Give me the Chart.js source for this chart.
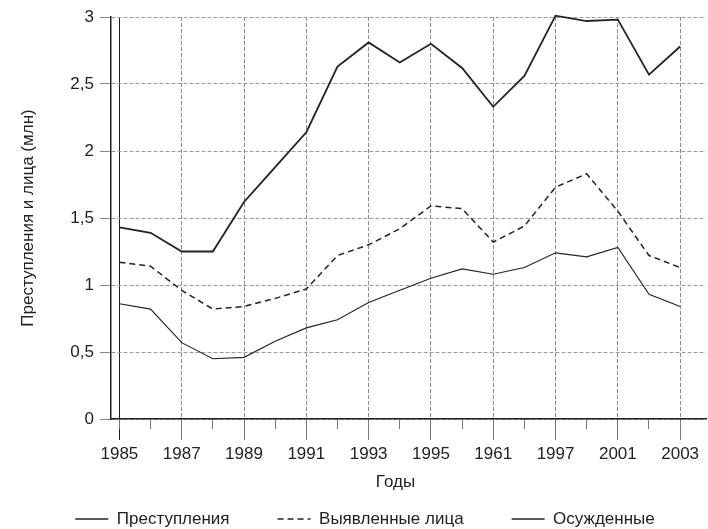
<!DOCTYPE html>
<html>
<head>
<meta charset="utf-8">
<script src="https://cdn.jsdelivr.net/npm/chart.js@4/dist/chart.umd.min.js"></script>
<style>
  html, body { margin: 0; padding: 0; background: #fff; }
</style>
</head>
<body>
<canvas id="chart" width="708" height="529"></canvas>
<script>
const years = [1985, 1986, 1987, 1988, 1989, 1990, 1991, 1992, 1993, 1994,
  1995, 1996, 1997, 1998, 1999, 2000, 2001, 2002, 2003];
// подписи как в оригинале (каждый второй год)
const tickLabels = ['1985', '1987', '1989', '1991', '1993', '1995', '1961', '1997', '2001', '2003'];
const yTicks = [0, 0.5, 1, 1.5, 2, 2.5, 3];
const yTickLabels = ['0', '0,5', '1', '1,5', '2', '2,5', '3'];

const crimes = [1.43, 1.39, 1.25, 1.25, 1.62, 1.88, 2.14, 2.63, 2.81, 2.66,
  2.80, 2.62, 2.33, 2.56, 3.01, 2.97, 2.98, 2.57, 2.78];
const identified = [1.17, 1.14, 0.96, 0.82, 0.84, 0.90, 0.97, 1.22, 1.30, 1.42,
  1.59, 1.57, 1.32, 1.44, 1.73, 1.83, 1.55, 1.22, 1.13];
const convicted = [0.86, 0.82, 0.57, 0.45, 0.46, 0.58, 0.68, 0.74, 0.87, 0.96,
  1.05, 1.12, 1.08, 1.13, 1.24, 1.21, 1.28, 0.93, 0.84];

const FONT = 'Liberation Sans, Arial, sans-serif';
const INK = '#222';

const toPoints = vals => years.map((yr, i) => ({ x: yr, y: vals[i] }));
const isFirst = ctx => ctx.tick && ctx.tick.value === years[0];

// сдвиг легенды и подписи оси X, чтобы совпали с оригиналом
const layoutShift = {
  id: 'layoutShift',
  afterLayout(chart) {
    const lg = chart.legend;
    lg.left += 12;
    lg.right += 12;
    lg.top = 462.5;

    const sx = chart.scales.x;
    if (!sx._titleShifted) {
      const orig = sx.drawTitle;
      sx.drawTitle = function () {
        const l = this.left, r = this.right;
        this.left -= 13;
        this.right -= 13;
        orig.call(this);
        this.left = l;
        this.right = r;
      };
      sx._titleShifted = true;
    }
  }
};

new Chart(document.getElementById('chart'), {
  type: 'line',
  data: {
    datasets: [
      {
        label: 'Преступления',
        data: toPoints(crimes),
        borderColor: INK,
        borderWidth: 1.8,
        pointRadius: 0,
        tension: 0,
        clip: false
      },
      {
        label: 'Выявленные лица',
        data: toPoints(identified),
        borderColor: INK,
        borderWidth: 1.5,
        borderDash: [6, 4],
        pointRadius: 0,
        tension: 0,
        clip: false
      },
      {
        label: 'Осужденные',
        data: toPoints(convicted),
        borderColor: INK,
        borderWidth: 1.1,
        pointRadius: 0,
        tension: 0,
        clip: false
      }
    ]
  },
  options: {
    responsive: false,
    devicePixelRatio: 1,
    animation: false,
    layout: { padding: { top: 17, right: 2, left: 0, bottom: 0 } },
    plugins: {
      tooltip: { enabled: false },
      legend: {
        position: 'bottom',
        maxHeight: 34,
        labels: {
          usePointStyle: true,
          pointStyle: 'line',
          pointStyleWidth: 33,
          boxWidth: 33,
          padding: 48,
          color: INK,
          font: { family: FONT, size: 17 },
          generateLabels: chart => Chart.defaults.plugins.legend.labels.generateLabels(chart).map((it, i) => {
            const ds = chart.data.datasets[i];
            return { ...it, lineDash: ds.borderDash || [], lineWidth: 1.3, strokeStyle: INK, pointStyle: 'line' };
          })
        }
      }
    },
    scales: {
      x: {
        type: 'linear',
        position: 'bottom',
        weight: 1,
        min: 1984.73,
        max: 2003.83,
        afterBuildTicks: s => { s.ticks = years.filter((_, i) => i % 2 === 0).map(v => ({ value: v })); },
        afterFit: s => { s.height = 76; },
        ticks: {
          autoSkip: false,
          maxRotation: 0,
          padding: 4,
          color: INK,
          font: { family: FONT, size: 17 },
          callback: (v, i) => tickLabels[i]
        },
        grid: {
          color: ctx => isFirst(ctx) ? INK : '#8c8c8c',
          tickColor: ctx => isFirst(ctx) ? INK : '#777',
          lineWidth: 1,
          tickLength: 21
        },
        border: {
          color: INK,
          width: 1.5,
          dash: ctx => isFirst(ctx) ? [] : [4, 2]
        },
        title: {
          display: true,
          text: 'Годы',
          color: INK,
          font: { family: FONT, size: 17 },
          padding: { top: 4, bottom: 2 }
        }
      },
      x2: {
        type: 'linear',
        position: 'bottom',
        weight: 0,
        min: 1984.73,
        max: 2003.83,
        afterBuildTicks: s => { s.ticks = years.map(v => ({ value: v })); },
        afterFit: s => { s.height = 0; },
        ticks: { display: false },
        grid: { drawOnChartArea: false, tickLength: 10, tickColor: '#777' },
        border: { display: false }
      },
      y: {
        min: 0,
        max: 3,
        afterBuildTicks: s => { s.ticks = yTicks.map(v => ({ value: v })); },
        afterFit: s => { s.width = 111; },
        ticks: {
          padding: 6,
          color: INK,
          font: { family: FONT, size: 17 },
          callback: (v, i) => yTickLabels[i]
        },
        grid: { color: '#9a9a9a', tickColor: '#888', tickLength: 11 },
        border: { color: INK, width: 1.5, dash: [4, 2] },
        title: {
          display: true,
          text: 'Преступления и лица (млн)',
          color: INK,
          font: { family: FONT, size: 17 },
          padding: { top: 18, bottom: 0 }
        }
      }
    }
  },
  plugins: [layoutShift]
});
</script>
</body>
</html>
